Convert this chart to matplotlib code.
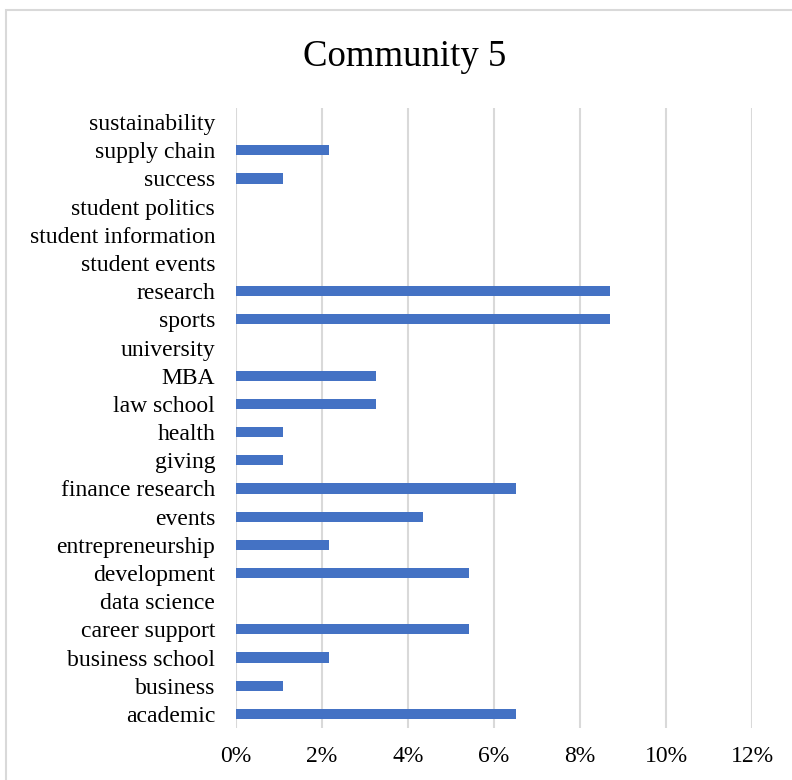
import matplotlib.pyplot as plt
from matplotlib.patches import Rectangle
from matplotlib.ticker import FuncFormatter

# topics listed bottom to top, share of community posts (%)
topics = ['academic', 'business', 'business school', 'career support', 'data science',
          'development', 'entrepreneurship', 'events', 'finance research', 'giving',
          'health', 'law school', 'MBA', 'university', 'sports', 'research',
          'student events', 'student information', 'student politics', 'success',
          'supply chain', 'sustainability']
shares = [6.52, 1.09, 2.17, 5.43, 0.0,
          5.43, 2.17, 4.35, 6.52, 1.09,
          1.09, 3.26, 3.26, 0.0, 8.70, 8.70,
          0.0, 0.0, 0.0, 1.09,
          2.17, 0.0]

plt.rcParams['font.family'] = ['Liberation Serif', 'DejaVu Serif']

fig = plt.figure(figsize=(7.92, 7.80), dpi=100)
ax = fig.add_axes([236 / 792, 1 - 728 / 780, 516 / 792, 620 / 780])

# chart border
fig.patches.append(Rectangle((6 / 792, -0.1), 1.2, 1 - 10 / 780 + 0.1,
                             transform=fig.transFigure, fill=False,
                             edgecolor='#d9d9d9', linewidth=1.5))

ypos = range(len(topics))
ax.barh(ypos, shares, height=0.36, color='#4472c4', zorder=3)

ax.set_xlim(0, 12)
ax.set_ylim(-0.5, len(topics) - 0.5)
ax.set_xticks(range(0, 13, 2))
ax.xaxis.set_major_formatter(FuncFormatter(lambda v, p: f'{v:.0f}%'))
ax.set_yticks(list(ypos))
ax.set_yticklabels(topics)
ax.tick_params(axis='both', length=0, labelsize=17, colors='black')
ax.tick_params(axis='y', pad=15)
ax.tick_params(axis='x', pad=13)
ax.grid(axis='x', color='#d9d9d9', linewidth=1.5, zorder=0)
for s in ax.spines.values():
    s.set_visible(False)

fig.text(405 / 792, 1 - 57 / 780, 'Community 5', ha='center', va='center', fontsize=26.5)

fig.savefig('out.png', dpi=100)
